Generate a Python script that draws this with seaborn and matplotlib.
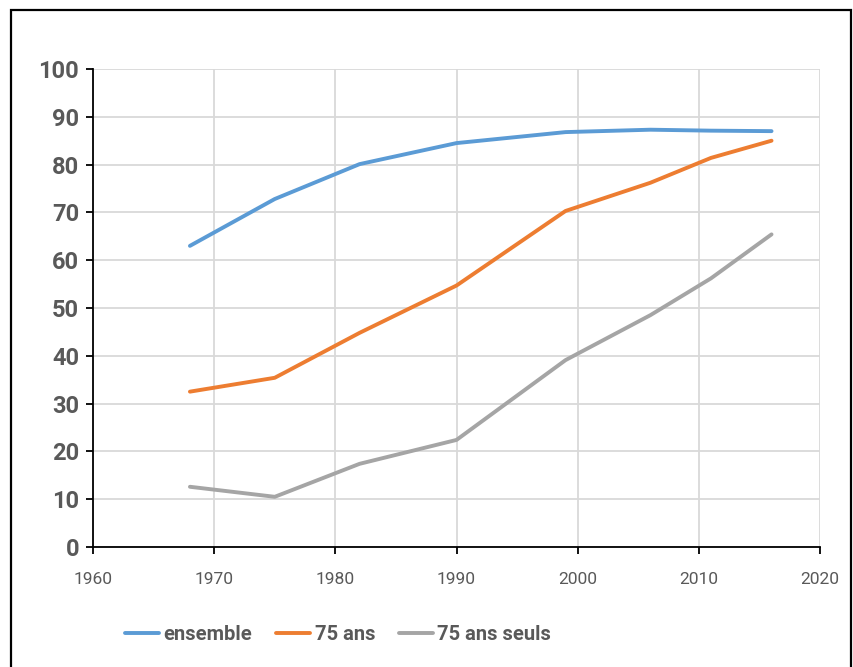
import pandas as pd
import matplotlib
matplotlib.use("Agg")
import matplotlib.pyplot as plt
import seaborn as sns
from matplotlib.patches import Rectangle

# values
years = [1968, 1975, 1982, 1990, 1999, 2006, 2011, 2016]
ensemble = [63.0, 72.8, 80.1, 84.5, 86.8, 87.3, 87.1, 87.0]
ans75 = [32.5, 35.4, 44.8, 54.7, 70.3, 76.2, 81.4, 85.0]
ans75_seuls = [12.6, 10.5, 17.4, 22.4, 39.1, 48.5, 56.2, 65.4]
series_names = ["ensemble", "75 ans", "75 ans seuls"]
colors = ["#5B9BD5", "#ED7D31", "#A5A5A5"]
x_ticks = [1960, 1970, 1980, 1990, 2000, 2010, 2020]
y_ticks = [0, 10, 20, 30, 40, 50, 60, 70, 80, 90, 100]

df = pd.concat([
    pd.DataFrame({"annee": years, "valeur": vals, "serie": name})
    for name, vals in zip(series_names, [ensemble, ans75, ans75_seuls])
])

sns.set_style("white")
font = ["Roboto", "DejaVu Sans"]
plt.rcParams["font.family"] = font
text_grey = "#595959"

fig = plt.figure(figsize=(8.54, 6.67), dpi=100)
ax = fig.add_axes([93 / 854, 1 - 547 / 667, (820 - 93) / 854, (547 - 69) / 667])

sns.lineplot(data=df, x="annee", y="valeur", hue="serie", hue_order=series_names,
             palette=colors, linewidth=2.8, ax=ax, legend=False)

ax.set_xlim(1960, 2020)
ax.set_ylim(0, 100)
ax.set_xticks(x_ticks)
ax.set_yticks(y_ticks)
ax.grid(True, color="#D9D9D9", linewidth=1.3)
ax.set_axisbelow(True)
for side in ["top", "right"]:
    ax.spines[side].set_visible(False)
for side in ["left", "bottom"]:
    ax.spines[side].set_color("black")
    ax.spines[side].set_linewidth(1.3)
ax.tick_params(axis="both", direction="out", length=5, width=1.3, color="black",
               left=True, bottom=True)
ax.tick_params(axis="x", labelsize=12.5, labelcolor=text_grey, pad=13)
ax.tick_params(axis="y", labelsize=17, labelcolor=text_grey, pad=5)
for lab in ax.get_yticklabels():
    lab.set_fontweight("bold")
ax.set_xlabel("")
ax.set_ylabel("")

handles = [plt.Line2D([], [], color=c, linewidth=2.8) for c in colors]
leg = fig.legend(handles, series_names, loc="center", bbox_to_anchor=(0.396, 0.048),
                 ncol=3, frameon=False, handlelength=1.7, handletextpad=0.2,
                 columnspacing=1.2, prop={"family": font, "weight": "bold", "size": 14.5})
for t in leg.get_texts():
    t.set_color(text_grey)

# outer frame of the chart
fig.patches.append(Rectangle((11 / 854, -0.05), (851 - 11) / 854, 1.05 - 10 / 667,
                             transform=fig.transFigure, fill=False,
                             edgecolor="black", linewidth=1.6))

fig.savefig("out.png", dpi=100)
